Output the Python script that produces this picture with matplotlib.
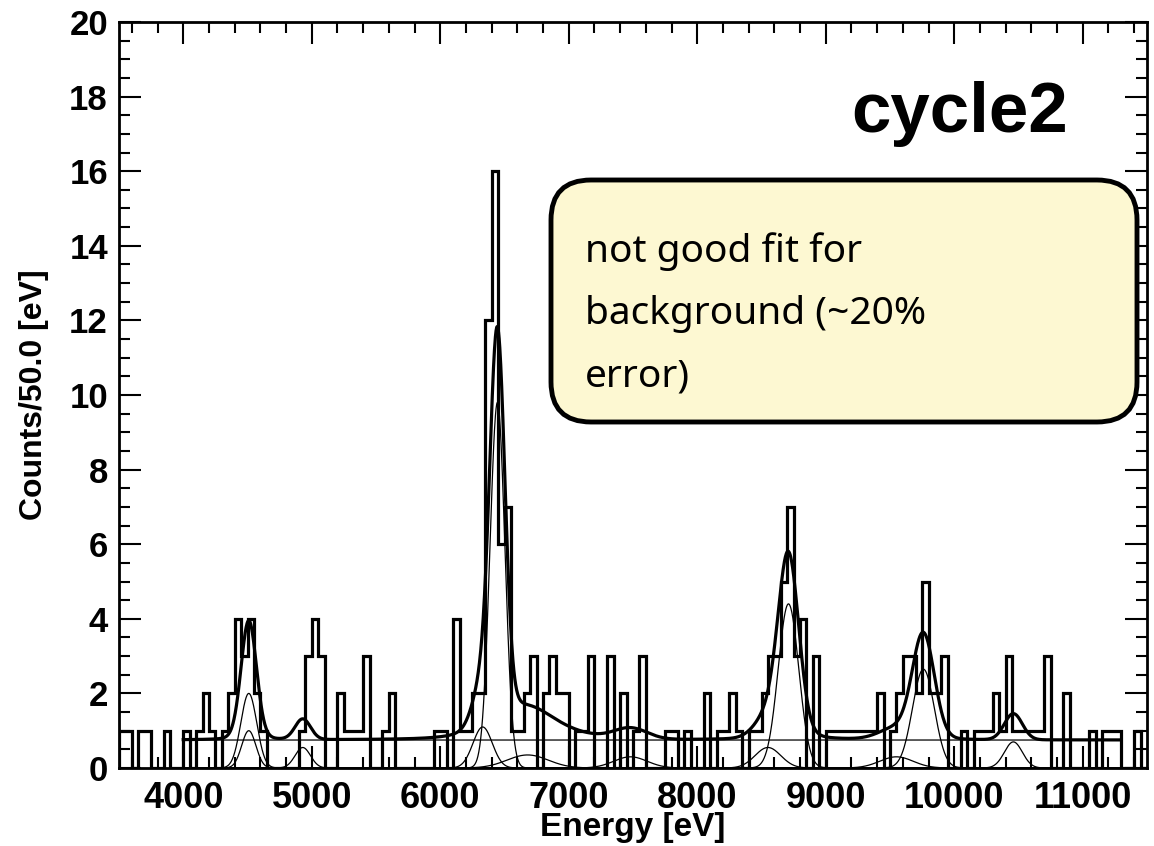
import numpy as np
import matplotlib
matplotlib.use("Agg")
import matplotlib.pyplot as plt
from matplotlib.patches import FancyBboxPatch
from matplotlib.ticker import MultipleLocator

# histogram: 50 eV bins starting at 3500 eV
bin_lo = 3500
bin_w = 50
counts = [1, 1, 0, 1, 1, 0, 0, 1, 0, 0,
          1, 0, 1, 2, 1, 0, 1, 2, 4, 3,
          4, 2, 1, 0, 0, 0, 0, 0, 1, 3,
          4, 3, 0, 0, 2, 1, 1, 1, 3, 0,
          0, 1, 2, 0, 0, 0, 0, 0, 0, 1,
          1, 0, 4, 1, 1, 2, 2, 12, 16, 6,
          7, 1, 1, 2, 3, 0, 2, 3, 2, 2,
          0, 1, 1, 3, 0, 0, 3, 0, 2, 0,
          1, 3, 0, 0, 0, 1, 1, 0, 1, 0,
          0, 2, 0, 1, 1, 2, 1, 0, 1, 1,
          2, 3, 3, 5, 7, 3, 4, 0, 3, 0,
          1, 1, 1, 1, 1, 1, 1, 1, 2, 0,
          1, 2, 3, 3, 2, 5, 2, 2, 3, 0,
          0, 1, 0, 1, 1, 1, 2, 1, 3, 1,
          1, 1, 1, 1, 3, 0, 0, 2, 0, 0,
          0, 1, 0, 1, 1, 1, 0, 0, 1, 0]

# fit model
fit_lo, fit_hi = 4000, 11300
bg_level = 0.75
peak_mu = [4510, 4510, 4930, 6330, 6445, 6680, 7480, 8550, 8710, 9550, 9760, 10460]
peak_amp = [2.0, 1.0, 0.55, 1.1, 9.8, 0.35, 0.3, 0.55, 4.4, 0.3, 2.65, 0.7]
peak_sig = [62, 55, 60, 75, 58, 160, 130, 100, 80, 130, 85, 70]
# tails that only show up in the total curve
tail_mu = [4510, 6445, 8710, 9760]
tail_amp = [0.2, 0.6, 0.5, 0.15]
tail_gam = [100, 170, 120, 130]
broad_mu = [6750]
broad_amp = [0.4]
broad_sig = [280]

edges = bin_lo + bin_w * np.arange(len(counts) + 1)
x = np.linspace(fit_lo, fit_hi, 3000)

def gaus(x, a, m, s):
    return a * np.exp(-0.5 * ((x - m) / s) ** 2)

comps = [gaus(x, a, m, s) for a, m, s in zip(peak_amp, peak_mu, peak_sig)]
total = bg_level + np.sum(comps, axis=0)
for a, m, g in zip(tail_amp, tail_mu, tail_gam):
    total = total + a / (1 + ((x - m) / g) ** 2)
for a, m, s in zip(broad_amp, broad_mu, broad_sig):
    total = total + gaus(x, a, m, s)

plt.rcParams['font.family'] = ['Liberation Sans', 'DejaVu Sans']
fig = plt.figure(figsize=(11.54, 8.46), dpi=100)
ax = fig.add_axes([119/1154, 1-768/846, 1028/1154, 746/846])

ax.stairs(counts, edges, color='k', lw=2.3, baseline=0)
for c in comps:
    ax.plot(x, c, color='k', lw=0.9)
ax.plot(x, np.full_like(x, bg_level), color='k', lw=0.9)
ax.plot(x, total, color='k', lw=2.3)

ax.set_xlim(3500, 11500)
ax.set_ylim(0, 20)
ax.xaxis.set_major_locator(MultipleLocator(1000))
ax.xaxis.set_minor_locator(MultipleLocator(200))
ax.yaxis.set_major_locator(MultipleLocator(2))
ax.yaxis.set_minor_locator(MultipleLocator(0.5))
ax.set_xticks([4000, 5000, 6000, 7000, 8000, 9000, 10000, 11000])
ax.tick_params(which='both', direction='in', top=True, right=True, width=1.5)
ax.tick_params(which='major', length=16)
ax.tick_params(which='minor', length=8)
ax.tick_params(axis='x', which='major', labelsize=26, pad=9)
ax.tick_params(axis='y', which='major', labelsize=25, pad=8)
for lab in ax.get_xticklabels() + ax.get_yticklabels():
    lab.set_fontweight('bold')
for sp in ax.spines.values():
    sp.set_linewidth(2)

ax.set_xlabel('Energy [eV]', fontsize=24, fontweight='bold')
ax.xaxis.set_label_coords(0.5, -0.059)
ax.set_ylabel('Counts/50.0 [eV]', fontsize=23, fontweight='bold')
ax.yaxis.set_label_coords(-0.068, 0.5)

fig.text(1068/1154, 1-132/846, 'cycle2', fontsize=51, fontweight='bold',
         ha='right', va='baseline')

box = FancyBboxPatch((5.51, 4.24), 5.86, 2.42, boxstyle='round,pad=0,rounding_size=0.4',
                     transform=fig.dpi_scale_trans, facecolor='#fdf8d2',
                     edgecolor='k', lw=3.5, zorder=5)
fig.patches.append(box)
note_lines = ['not good fit for', 'background (~20%', 'error)']
for i, t in enumerate(note_lines):
    fig.text(5.85/11.54, 1-(262 + 62*i)/846, t, fontsize=28, family='Noto Sans',
             fontweight='medium', va='baseline', ha='left', zorder=6)

fig.savefig('out.png', dpi=100)
